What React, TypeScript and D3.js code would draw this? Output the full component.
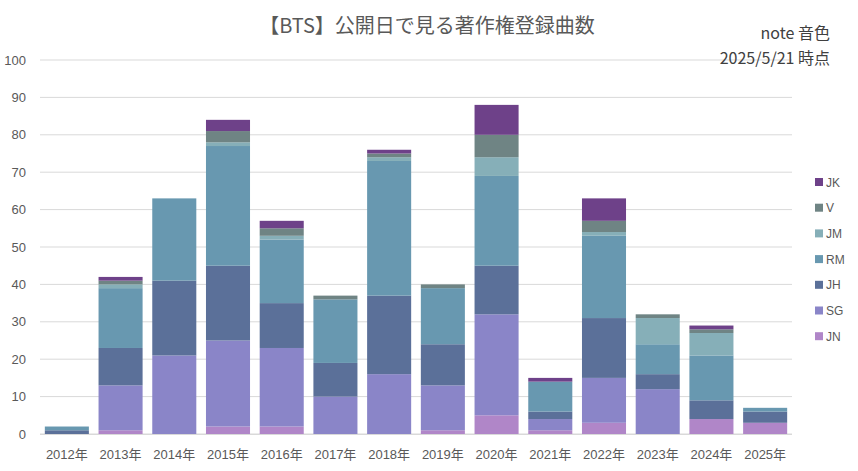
import { useEffect, useRef } from 'react'
import * as d3 from 'd3'

const years = ['2012年', '2013年', '2014年', '2015年', '2016年', '2017年', '2018年',
  '2019年', '2020年', '2021年', '2022年', '2023年', '2024年', '2025年']

// stacked bottom → top
const members = ['JN', 'SG', 'JH', 'RM', 'JM', 'V', 'JK']
const JN = [0, 1, 0, 2, 2, 0, 0, 1, 5, 1, 3, 0, 4, 3]
const SG = [0, 12, 21, 23, 21, 10, 16, 12, 27, 3, 12, 12, 0, 0]
const JH = [1, 10, 20, 20, 12, 9, 21, 11, 13, 2, 16, 4, 5, 3]
const RM = [1, 16, 22, 32, 17, 17, 36, 15, 24, 8, 22, 8, 12, 1]
const JM = [0, 1, 0, 1, 1, 0, 1, 0, 5, 0, 1, 7, 6, 0]
const V = [0, 1, 0, 3, 2, 1, 1, 1, 6, 0, 3, 1, 1, 0]
const JK = [0, 1, 0, 3, 2, 0, 1, 0, 8, 1, 6, 0, 1, 0]
const series = [JN, SG, JH, RM, JM, V, JK]
const colors = ['#b086c8', '#8a85c8', '#5b7099', '#6898b0', '#86afb8', '#6f8484', '#6e4189']
const yTicks = [0, 10, 20, 30, 40, 50, 60, 70, 80, 90, 100]

const W = 858
const H = 471
const FONT = '"Liberation Sans", Arial, "Noto Sans CJK JP", sans-serif'
const JFONT = '"Noto Sans CJK JP", sans-serif'

export default function App() {
  const ref = useRef<SVGSVGElement>(null)

  useEffect(() => {
    if (!ref.current) return
    const svg = d3.select(ref.current)
    svg.selectAll('*').remove()

    const x = d3.scaleBand().domain(years).range([40, 792]).paddingInner(0.18).paddingOuter(0.09)
    const y = d3.scaleLinear().domain([0, 100]).range([434, 60])

    // grid
    svg.append('g').selectAll('line').data(yTicks).join('line')
      .attr('x1', 40).attr('x2', 792)
      .attr('y1', d => y(d)).attr('y2', d => y(d))
      .attr('stroke', '#d9d9d9').attr('stroke-width', 1)

    svg.append('g').selectAll('text').data(yTicks).join('text')
      .attr('x', 26).attr('y', d => y(d) + 4.5)
      .attr('text-anchor', 'end')
      .attr('font-size', 13).attr('font-family', FONT).attr('fill', '#595959')
      .text(d => d)

    const rows = years.map((yr, i) => {
      const r: Record<string, number | string> = { year: yr }
      members.forEach((m, j) => { r[m] = series[j][i] })
      return r
    })
    const stacked = d3.stack<Record<string, number | string>>().keys(members)(rows)

    svg.append('g').selectAll('g').data(stacked).join('g')
      .attr('fill', (_, i) => colors[i])
      .selectAll('rect').data(d => d).join('rect')
      .attr('x', d => x(d.data.year as string)!)
      .attr('width', x.bandwidth())
      .attr('y', d => y(d[1]))
      .attr('height', d => y(d[0]) - y(d[1]))

    // x axis baseline
    svg.append('line')
      .attr('x1', 40).attr('x2', 792).attr('y1', 434.5).attr('y2', 434.5)
      .attr('stroke', '#d9d9d9')

    svg.append('g').selectAll('text').data(years).join('text')
      .attr('x', d => x(d)! + x.bandwidth() / 2).attr('y', 459)
      .attr('text-anchor', 'middle')
      .attr('font-size', 13).attr('font-family', FONT).attr('fill', '#595959')
      .text(d => d)

    // title
    svg.append('text')
      .attr('x', 427).attr('y', 33)
      .attr('text-anchor', 'middle')
      .attr('font-size', 20).attr('font-family', JFONT).attr('fill', '#595959')
      .text('【BTS】公開日で見る著作権登録曲数')

    svg.append('text')
      .attr('x', 830).attr('y', 39).attr('text-anchor', 'end')
      .attr('font-size', 16).attr('font-family', JFONT).attr('fill', '#404040')
      .text('note 音色')
    svg.append('text')
      .attr('x', 830).attr('y', 64).attr('text-anchor', 'end')
      .attr('font-size', 16).attr('font-family', JFONT).attr('fill', '#404040')
      .text('2025/5/21 時点')

    // legend, top item = last stacked
    const legend = members.slice().reverse()
    const lg = svg.append('g').selectAll('g').data(legend).join('g')
      .attr('transform', (_, i) => `translate(815, ${182 + i * 25.7})`)
    lg.append('rect')
      .attr('x', 0).attr('y', -4).attr('width', 8).attr('height', 8)
      .attr('fill', d => colors[members.indexOf(d)])
    lg.append('text')
      .attr('x', 11).attr('y', 4.5)
      .attr('font-size', 12).attr('font-family', FONT).attr('fill', '#595959')
      .text(d => d)
  }, [])

  return <svg ref={ref} width={W} height={H} style={{ display: 'block', position: 'absolute', left: 0, top: 0, background: '#fff' }} />
}
